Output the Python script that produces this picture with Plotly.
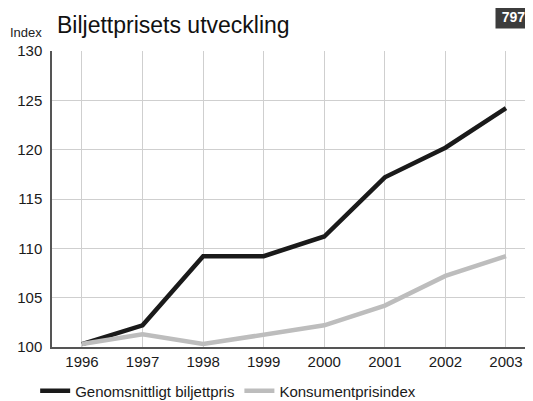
import plotly.graph_objects as go

years = [1996, 1997, 1998, 1999, 2000, 2001, 2002, 2003]
biljettpris = [100.3, 102.2, 109.2, 109.2, 111.2, 117.2, 120.2, 124.2]
kpi = [100.3, 101.3, 100.3, 101.2, 102.2, 104.2, 107.2, 109.2]
y_ticks = [100, 105, 110, 115, 120, 125, 130]

FONT = "Liberation Sans, Arial, sans-serif"

fig = go.Figure()
fig.add_trace(go.Scatter(x=years, y=biljettpris, mode="lines", name="Genomsnittligt biljettpris",
                         line=dict(color="#1a1a1a", width=4.5)))
fig.add_trace(go.Scatter(x=years, y=kpi, mode="lines", name="Konsumentprisindex",
                         line=dict(color="#bdbdbd", width=4.5)))

# page has an 8px body margin; figure sized to fill the rest of the window
fig.update_layout(
    width=525, height=393,
    margin=dict(l=44, r=0, t=43, b=54, autoexpand=False),
    paper_bgcolor="white", plot_bgcolor="white",
    font=dict(family=FONT, size=15, color="#1a1a1a"),
    showlegend=True,
    legend=dict(orientation="h", x=-0.035, y=-0.149, xanchor="left", yanchor="middle",
                font=dict(size=15, color="#1a1a1a"), itemwidth=30,
                tracegroupgap=0, bgcolor="rgba(0,0,0,0)"),
    xaxis=dict(range=[1995.505, 2003.446], tickvals=years, ticktext=[str(y) for y in years],
               showgrid=True, gridcolor="#cfcfcf", gridwidth=1,
               showline=True, linecolor="#555555", linewidth=1.5,
               ticks="", ticklen=0, zeroline=False, fixedrange=True),
    yaxis=dict(range=[100, 130], tickvals=y_ticks,
               showgrid=True, gridcolor="#cfcfcf", gridwidth=1,
               showline=True, linecolor="#555555", linewidth=1.5,
               ticks="", zeroline=False, fixedrange=True, ticklabelstandoff=5),
    annotations=[
        dict(text="Biljettprisets utveckling", xref="paper", yref="paper",
             x=0.006, y=1.0, xanchor="left", yanchor="middle", yshift=26,
             showarrow=False, font=dict(size=23, family=FONT, color="#111111")),
        dict(text="Index", xref="paper", yref="paper", x=-0.0915, y=1.0,
             xanchor="left", yanchor="middle", yshift=19,
             showarrow=False, font=dict(size=13, family=FONT, color="#222222")),
        dict(text="<b>797</b>", xref="paper", yref="paper", x=0.997, y=1.0,
             xanchor="right", yanchor="middle", yshift=34, showarrow=False,
             bgcolor="#3c3c3c", borderpad=3, width=29,
             font=dict(size=14, family=FONT, color="white")),
    ],
)

fig.write_html("out.html")
